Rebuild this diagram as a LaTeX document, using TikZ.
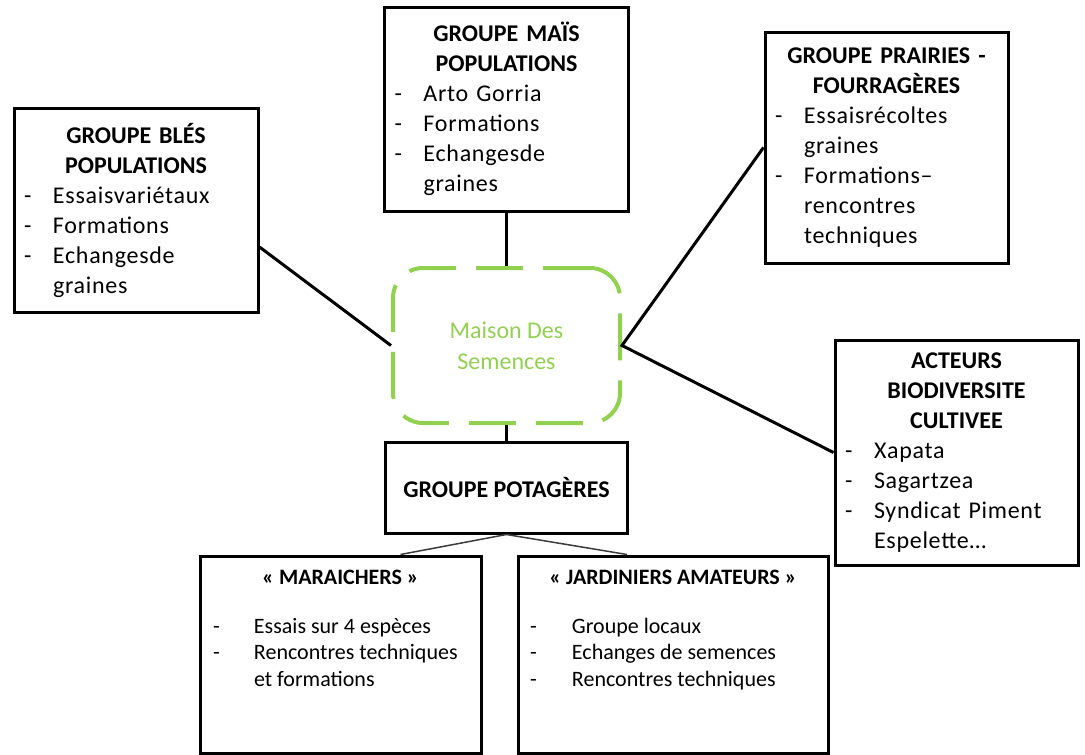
\documentclass[tikz,border=0pt]{standalone}
\usepackage{fontspec}
\setmainfont{Carlito}

\definecolor{vertmds}{RGB}{146,208,80}
\definecolor{trait}{RGB}{60,60,60}

\newcommand{\titre}[1]{{\centering\bfseries #1\par}}
\newcommand{\tiret}[2][29pt]{\par\noindent\hangindent=#1\hangafter=1\makebox[#1][l]{-}#2\par}

\tikzset{
    groupe/.style={draw, line width=3pt, inner xsep=10pt, align=left, font=\fontsize{24}{30}\selectfont},
    liaison/.style={line width=3pt},
    fine/.style={line width=1.5pt, trait},
}

\begin{document}
\begin{tikzpicture}[x=1pt, y=-1pt]
    \useasboundingbox (0,0) rectangle (1085,755);

    % maison des semences
    \node[draw=vertmds, line width=4pt, dash pattern=on 47pt off 20pt, rounded corners=30pt, minimum width=227, minimum height=155, text=vertmds, align=center, font=\fontsize{24}{31}\selectfont] (mds) at (506.5,345.5) {Maison Des\\Semences};

    % groupes
    \node[groupe, minimum width=244, minimum height=204, text width=224] (ble) at (136,210)
        {\titre{GROUPE BLÉS\par POPULATIONS}
         \addfontfeatures{LetterSpace=3}
         \tiret{Essaisvariétaux}
         \tiret{Formations}
         \tiret{Echangesde\newline graines}};
    \node[groupe, minimum width=244, minimum height=204, text width=224] (mais) at (506.5,109)
        {\titre{GROUPE MAÏS\par POPULATIONS}
         \addfontfeatures{LetterSpace=3}
         \tiret{Arto Gorria}
         \tiret{Formations}
         \tiret{Echangesde\newline graines}};
    \node[groupe, minimum width=243, minimum height=231, text width=223] (prai) at (886.5,147.5)
        {\titre{GROUPE PRAIRIES -\par FOURRAGÈRES}
         \addfontfeatures{LetterSpace=3}
         \tiret{Essaisrécoltes\newline graines}
         \tiret{Formations–\newline rencontres\newline techniques}};
    \node[groupe, minimum width=243, minimum height=225, text width=223] (acteurs) at (956.5,452.5)
        {\titre{ACTEURS\par BIODIVERSITE\par CULTIVEE}
         \addfontfeatures{LetterSpace=3}
         \tiret{Xapata}
         \tiret{Sagartzea}
         \tiret{Syndicat Piment\newline Espelette…}};
    \node[groupe, minimum width=242, minimum height=91] (pota) at (506.5,487.5) {\bfseries GROUPE POTAGÈRES};

    % sous-groupes potageres
    \node[groupe, inner sep=0pt, minimum width=281, minimum height=197, font=\fontsize{22}{26.5}\selectfont] (mar) at (340.5,654.5)
        {\parbox[c][197pt][t]{255pt}{\vspace{14pt}
         \titre{«~MARAICHERS~»}\vspace{22.5pt}
         \tiret[41pt]{Essais sur 4 espèces}
         \tiret[41pt]{Rencontres techniques\newline et formations}}};
    \node[groupe, inner sep=0pt, minimum width=310, minimum height=197, font=\fontsize{22}{26.5}\selectfont] (jard) at (673,654.5)
        {\parbox[c][197pt][t]{286pt}{\vspace{14pt}
         \titre{«~JARDINIERS AMATEURS~»}\vspace{22.5pt}
         \tiret[42pt]{Groupe locaux}
         \tiret[42pt]{Echanges de semences}
         \tiret[42pt]{Rencontres techniques}}};

    % liaisons
    \draw[liaison] ([yshift=-37pt]ble.east) -- (mds.west);
    \draw[liaison] (mais.south) -- (mds.north);
    \draw[liaison] (prai.west) -- (mds.east) -- (acteurs.west);
    \draw[liaison] (mds.south) -- (pota.north);
    \draw[fine] ([xshift=60pt]mar.north) -- (pota.south) -- ([xshift=-46pt]jard.north);
\end{tikzpicture}
\end{document}
